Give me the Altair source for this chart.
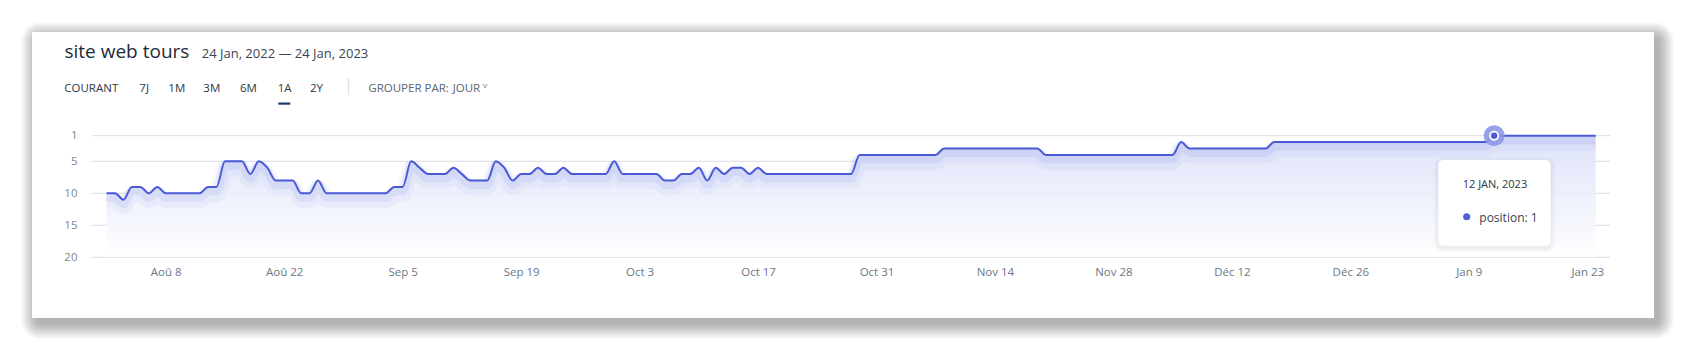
import altair as alt
import pandas as pd

# ---------------- data ----------------
start_date = "2022-08-01"
positions = [
    10, 10, 11, 9, 9, 10, 9, 10, 10, 10, 10, 10, 9, 9,
    5, 5, 5, 7, 5, 6, 8, 8, 8,
    10, 10, 8, 10, 10, 10, 10, 10, 10, 10, 10, 9, 9,
    5, 6, 7, 7, 7, 6, 7, 8, 8, 8, 5, 6, 8,
    7, 7, 6, 7, 7, 6, 7, 7, 7, 7, 7, 5, 7,
    7, 7, 7, 7, 8, 8, 7, 7, 6, 8, 6, 7, 6, 6, 7, 6, 7,
    7, 7, 7, 7, 7, 7, 7, 7, 7, 7,
    4, 4, 4, 4, 4, 4, 4, 4, 4, 4,
    3, 3, 3, 3, 3, 3, 3, 3, 3, 3, 3, 3,
    4, 4, 4, 4, 4, 4, 4, 4, 4, 4, 4, 4, 4, 4, 4, 4,
    2,
    3, 3, 3, 3, 3, 3, 3, 3, 3, 3,
    2, 2, 2, 2, 2, 2, 2, 2, 2, 2, 2, 2, 2, 2, 2, 2, 2, 2, 2, 2, 2, 2, 2, 2, 2, 2,
    1, 1, 1, 1, 1, 1, 1, 1, 1, 1, 1, 1, 1,
]
tick_dates = ["2022-08-08", "2022-08-22", "2022-09-05", "2022-09-19", "2022-10-03",
              "2022-10-17", "2022-10-31", "2022-11-14", "2022-11-28", "2022-12-12",
              "2022-12-26", "2023-01-09", "2023-01-23"]
y_ticks = [1, 5, 10, 15, 20]
hl_date = "2023-01-12"
tooltip_title = "12 JAN, 2023"
title_text = "site web tours"
subtitle_text = "24 Jan, 2022 \u2014 24 Jan, 2023"
tabs = ["COURANT", "7J", "1M", "3M", "6M", "1A", "2Y"]

dates = pd.date_range(start_date, periods=len(positions), freq="D")
df = pd.DataFrame({"date": dates.strftime("%Y-%m-%d"), "position": positions})
hl_value = int(df.loc[df["date"] == hl_date, "position"].iloc[0])
df_hl = df[df["date"] == hl_date]
df_grid = pd.DataFrame({"position": y_ticks})

# ---------------- layout constants ----------------
W, H = 1518, 121.6
PL, PT = 92, 135.7
FONT = "Open Sans"
LINE = "#4a5ad6"


def dt(s, h=0, m=0):
    y, mo, d = (int(p) for p in s.split("-"))
    return alt.DateTime(year=y, month=mo, date=d, hours=h, minutes=m, utc=True)


month_expr = ("['Jan','Fév','Mar','Avr','Mai','Juin','Juil','Aoû','Sep','Oct','Nov','Déc']"
              "[utcmonth(datum.value)] + ' ' + utcdate(datum.value)")

X = alt.X("date:T",
          scale=alt.Scale(type="utc", domain=[dt("2022-07-30", 6, 50), dt("2023-01-25", 16, 34)]),
          axis=alt.Axis(values=[dt(s) for s in tick_dates], labelExpr=month_expr, title=None,
                        grid=False, domain=False, ticks=False, labelPadding=9,
                        labelFontSize=11.5, labelColor="#6c7884", labelFont=FONT, zindex=1))
Y = alt.Y("position:Q",
          scale=alt.Scale(domain=[1, 20], reverse=True, zero=False, nice=False),
          axis=alt.Axis(values=y_ticks, title=None, grid=False, domain=False, ticks=False,
                        labelPadding=15, labelFontSize=11.5, labelColor="#7e8893",
                        labelFont=FONT, zindex=1))

one = alt.Data(values=[{"a": 1}])


def box(x1, x2, y1, y2, color, opacity=1.0, r=0):
    return alt.Chart(one).mark_rect(color=color, opacity=opacity, cornerRadius=r).encode(
        x=alt.value(x1 - PL), x2=alt.value(x2 - PL), y=alt.value(y1 - PT), y2=alt.value(y2 - PT))


def txt(s, x, y, size, color, weight="normal", align="left"):
    return alt.Chart(one).mark_text(text=s, font=FONT, fontSize=size, color=color,
                                    fontWeight=weight, align=align, baseline="alphabetic").encode(
        x=alt.value(x - PL), y=alt.value(y - PT))


# card shadow + card
layers = []
for k in range(1, 17):
    layers.append(box(32 - k + 5, 1654 + k + 4, 32 - k + 6, 318 + k + 5, "#000000", 0.02, k + 3))
layers.append(box(32, 1654, 32, 318, "#ffffff"))

# header
layers.append(txt(title_text, 64.5, 58.3, 19, "#1f2b38", 500))
layers.append(txt(subtitle_text, 201.7, 57.7, 13, "#3a4553"))
tab_x = [64.3, 139.3, 168.3, 203.3, 240, 277.7, 310]
for t, xx in zip(tabs, tab_x):
    layers.append(txt(t, xx, 91.7, 11.5, "#2c3846"))
layers.append(box(278.3, 290.3, 102.5, 104.7, "#173a6b"))
layers.append(box(347.8, 348.8, 78.3, 95, "#d6d9de"))
layers.append(txt("GROUPER PAR:", 368.3, 91.7, 11.5, "#586472"))
layers.append(txt("JOUR", 452.7, 91.7, 11.5, "#586472"))
layers.append(txt("\u02c5", 482.5, 88.5, 9, "#586472", "bold"))

# gridlines
layers.append(alt.Chart(df_grid).mark_rule(color="#d9dce3", strokeWidth=1).encode(
    y=Y, x=alt.value(0), x2=alt.value(W)))

base = alt.Chart(df)
area = base.mark_area(
    interpolate="monotone",
    fill=alt.Gradient(gradient="linear",
                      stops=[alt.GradientStop(color="#dce1f9", offset=0),
                             alt.GradientStop(color="#ffffff", offset=1)],
                      x1=1, x2=1, y1=0, y2=1),
    opacity=0.95,
).encode(x=X, y=Y, y2=alt.datum(20))
glow1 = base.mark_line(interpolate="monotone", color="#7a88e6", strokeWidth=16,
                       opacity=0.07, yOffset=7).encode(x=X, y=Y)
glow2 = base.mark_line(interpolate="monotone", color="#7080e4", strokeWidth=9,
                       opacity=0.12, yOffset=4).encode(x=X, y=Y)
line = base.mark_line(interpolate="monotone", color=LINE, strokeWidth=2).encode(x=X, y=Y)
layers += [area, glow1, glow2, line]

# highlighted point
hl = alt.Chart(df_hl)
layers.append(hl.mark_circle(size=440, color="#8c98e6", opacity=0.9).encode(x=X, y=Y))
layers.append(hl.mark_circle(size=100, color="#ffffff", opacity=1).encode(x=X, y=Y))
layers.append(hl.mark_circle(size=40, color=LINE, opacity=1).encode(x=X, y=Y))

# tooltip
for k in range(1, 6):
    layers.append(box(1438.3 - k, 1550.7 + k, 160 - k + 2, 245.7 + k + 2, "#000000", 0.012, 5 + k))
layers.append(box(1438.3, 1550.7, 160, 245.7, "#ffffff", 1.0, 5))
layers.append(txt(tooltip_title, 1462.7, 187.7, 11, "#2c3846"))
layers.append(alt.Chart(one).mark_circle(size=50, color="#4d5fdb", opacity=1).encode(
    x=alt.value(1466.7 - PL), y=alt.value(216.7 - PT)))
layers.append(txt(f"position: {hl_value}", 1479.3, 221.7, 12, "#3a4553"))

chart = alt.layer(*layers).properties(
    width=W, height=H,
    padding={"left": PL, "top": PT, "right": 1686 - PL - W, "bottom": 351 - PT - H},
    autosize=alt.AutoSizeParams(type="none"),
).configure(background="#ffffff", font=FONT).configure_view(strokeWidth=0)

chart.save("out.html", embed_options={"renderer": "svg", "actions": False})
